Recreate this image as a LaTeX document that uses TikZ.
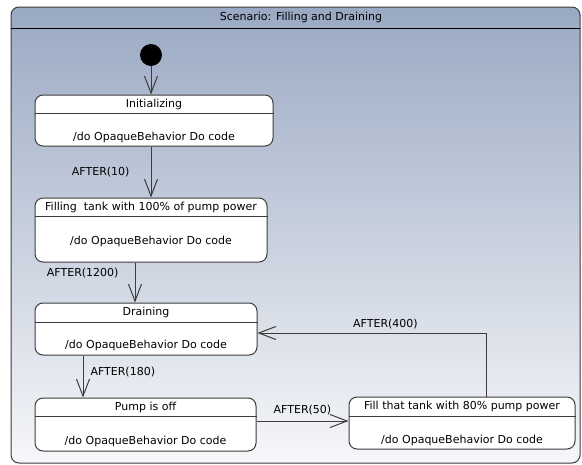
\documentclass[tikz,border=0pt]{standalone}
\usepackage{fontspec}
\setmainfont{DejaVu Sans}
\usetikzlibrary{positioning,arrows.meta}

\definecolor{frametop}{RGB}{154,169,195}
\definecolor{framebot}{RGB}{246,247,249}
\definecolor{linegray}{RGB}{60,60,60}

\begin{document}
\begin{tikzpicture}[x=1pt, y=-1pt, font=\fontsize{11}{12}\selectfont]
  \tikzset{
    state_box/.style={draw=linegray, fill=white, line width=1pt, rounded corners=8pt, inner sep=0pt},
    state_head/.style={inner sep=0pt, minimum height=19pt},
    state_body/.style={inner sep=0pt},
    state_sep/.style={draw=linegray, line width=1pt},
    init_dot/.style={circle, fill=black, inner sep=0pt, minimum size=22pt},
    trans/.style={draw=linegray, line width=1pt, -{Straight Barb[length=17pt, width=13pt]}},
    trans_lbl/.style={inner sep=1pt}
  }

  % frame
  \useasboundingbox (0,0) rectangle (582,464);
  \shade[top color=frametop, bottom color=framebot, draw=linegray, line width=1pt, rounded corners=8pt]
    (11,7) rectangle (580,463);
  \draw[line width=0.9pt, black] (11,28) -- (580,28);
  \node (title) at (301,17) {Scenario: Filling and Draining};

  % initial state
  \node[init_dot] (st_start) at (151,55) {};

  % states
  \node[state_box, minimum width=238pt, minimum height=51pt] (st_init) at (154,120.5) {};
  \node[state_head, below=0pt of st_init.north] (st_init_h) {Initializing};
  \node[state_body] (st_init_b) at ([yshift=9pt]st_init.south) {/do OpaqueBehavior Do code};
  \draw[state_sep] (st_init.west |- st_init_h.south) -- (st_init.east |- st_init_h.south);

  \node[state_box, minimum width=232pt, minimum height=64pt] (st_full) at (151,230) {};
  \node[state_head, below=0pt of st_full.north] (st_full_h) {Filling\ \ tank with 100\% of pump power};
  \node[state_body] (st_full_b) at ([yshift=21pt]st_full.south) {/do OpaqueBehavior Do code};
  \draw[state_sep] (st_full.west |- st_full_h.south) -- (st_full.east |- st_full_h.south);

  \node[state_box, minimum width=222pt, minimum height=52pt] (st_drain) at (146,329) {};
  \node[state_head, minimum height=20pt, below=0pt of st_drain.north] (st_drain_h) {Draining};
  \node[state_body] (st_drain_b) at ([yshift=10pt]st_drain.south) {/do OpaqueBehavior Do code};
  \draw[state_sep] (st_drain.west |- st_drain_h.south) -- (st_drain.east |- st_drain_h.south);

  \node[state_box, minimum width=221pt, minimum height=53pt] (st_pump) at (145.5,424.5) {};
  \node[state_head, below=0pt of st_pump.north] (st_pump_h) {Pump is off};
  \node[state_body] (st_pump_b) at ([yshift=10pt]st_pump.south) {/do OpaqueBehavior Do code};
  \draw[state_sep] (st_pump.west |- st_pump_h.south) -- (st_pump.east |- st_pump_h.south);

  \node[state_box, minimum width=226pt, minimum height=52pt] (st_eighty) at (462,423) {};
  \node[state_head, minimum height=20pt, below=0pt of st_eighty.north] (st_eighty_h) {Fill that tank with 80\% pump power};
  \node[state_body] (st_eighty_b) at ([yshift=9pt]st_eighty.south) {/do OpaqueBehavior Do code};
  \draw[state_sep] (st_eighty.west |- st_eighty_h.south) -- (st_eighty.east |- st_eighty_h.south);

  % transitions
  \draw[trans] (st_start) -- (st_start |- st_init.north);
  \draw[trans] ([xshift=-3pt]st_init.south) -- ([xshift=-3pt]st_init.south |- st_full.north)
    node[trans_lbl, midway, left=20pt] (lbl_10) {AFTER(10)};
  \draw[trans] ([xshift=-16pt]st_full.south) -- ([xshift=-16pt]st_full.south |- st_drain.north)
    node[trans_lbl, pos=0.27, left=15pt] (lbl_1200) {AFTER(1200)};
  \draw[trans] ([xshift=-63pt]st_drain.south) -- ([xshift=-63pt]st_drain.south |- st_pump.north)
    node[trans_lbl, pos=0.4, right=6pt] (lbl_180) {AFTER(180)};
  \draw[trans] ([yshift=3.5pt]st_pump.east) -- ([yshift=3.5pt]st_pump.east -| st_eighty.west)
    node[trans_lbl, midway, above=5pt] (lbl_50) {AFTER(50)};
  \draw[trans] ([xshift=24pt]st_eighty.north) |- ([yshift=-4pt]st_drain.east)
    node[trans_lbl, pos=0.72, above=3pt] (lbl_400) {AFTER(400)};
\end{tikzpicture}
\end{document}
